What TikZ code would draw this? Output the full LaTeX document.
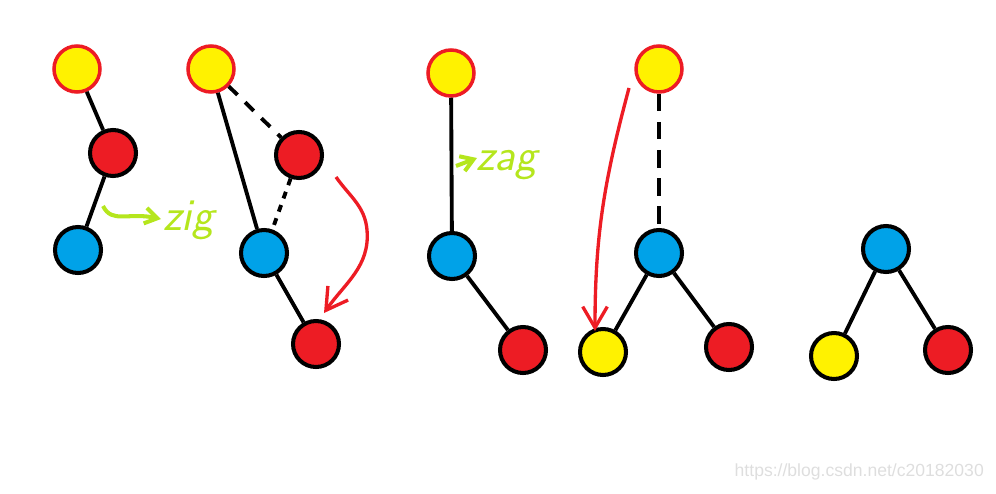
\documentclass[tikz,border=0pt]{standalone}
\usepackage{fontspec}
\newfontfamily\wmfont{Liberation Sans}
\usetikzlibrary{arrows.meta}
\definecolor{pred}{HTML}{ED1C24}
\definecolor{pyellow}{HTML}{FFF200}
\definecolor{pblue}{HTML}{00A2E8}
\definecolor{plime}{HTML}{B5E61D}
\begin{document}
\begin{tikzpicture}[x=0.02cm,y=-0.02cm,
    nd/.style={circle,draw,line width=2.3pt,minimum size=0.92cm,inner sep=0pt},
    rt/.style={nd,fill=pyellow,draw=pred,line width=2pt},
    yl/.style={nd,fill=pyellow},
    rd/.style={nd,fill=pred},
    bl/.style={nd,fill=pblue},
    ln/.style={line width=2.2pt},
    dsh/.style={ln,dash pattern=on 7pt off 6pt},
    dot/.style={ln,dash pattern=on 4pt off 4pt},
    redarr/.style={pred,line width=1.9pt,-{Straight Barb[length=12pt,width=14pt]}},
    grarr/.style={plime,line width=2.3pt,-{Straight Barb[length=7pt,width=9pt]}},
    grtxt/.style={plime,font=\sffamily\itshape\fontsize{26}{26}\selectfont,inner sep=0pt,anchor=base west}]
  \useasboundingbox (0,0) rectangle (996,493);
  % zig: first tree
  \node[rt] (y1) at (77,69) {};
  \node[rd] (r1) at (113,153) {};
  \node[bl] (b1) at (78,250) {};
  \draw[ln] (y1) -- (r1);
  \draw[ln] (r1) -- (b1);
  \coordinate (zs) at (103,206);
  \coordinate (ze) at (161,219);
  \draw[grarr] (zs) .. controls (112,224) and (128,212) .. (ze);
  \node[grtxt] (zig) at (163,230) {zig};
  % after zig
  \node[rt] (y2) at (211,69) {};
  \node[rd] (r2) at (299,155) {};
  \node[bl] (b2) at (264,253) {};
  \node[rd] (s2) at (316,344) {};
  \draw[ln] (y2) -- (b2);
  \draw[dsh] (y2) -- (r2);
  \draw[dot] (r2) -- (b2);
  \draw[ln] (b2) -- (s2);
  \coordinate (a2s) at (336,177);
  \coordinate (a2m) at (367,230);
  \coordinate (a2e) at (324,313);
  \draw[redarr] (a2s) to[out=-55,in=95] (a2m) to[out=-85,in=55] (a2e);
  % zag
  \node[rt] (y3) at (451,73) {};
  \node[bl] (b3) at (452,256) {};
  \node[rd] (r3) at (523,350) {};
  \draw[ln] (y3) -- (b3);
  \draw[ln] (b3) -- (r3);
  \coordinate (gs) at (456,166);
  \coordinate (ge) at (477,158);
  \draw[grarr] (gs) -- (ge);
  \node[grtxt] (zag) at (476,171) {zag};
  % after zag
  \node[rt] (y4) at (659,69) {};
  \node[bl] (b4) at (659,253) {};
  \node[yl] (l4) at (603,352) {};
  \node[rd] (r4) at (729,347) {};
  \draw[dsh,dash pattern=on 10pt off 6pt] (y4) -- (b4);
  \draw[ln] (b4) -- (l4);
  \draw[ln] (b4) -- (r4);
  \coordinate (a4s) at (629,88);
  \coordinate (a4e) at (595,331);
  \draw[redarr] (a4s) to[out=-105,in=90] (a4e);
  % result
  \node[bl] (b5) at (886,249) {};
  \node[yl] (l5) at (834,356) {};
  \node[rd] (r5) at (948,350) {};
  \draw[ln] (b5) -- (l5);
  \draw[ln] (b5) -- (r5);
  \node[anchor=east,text=black!13,font=\wmfont\fontsize{10}{10}\selectfont] (wm) at (990,472) {https://blog.csdn.net/c20182030};
\end{tikzpicture}
\end{document}
